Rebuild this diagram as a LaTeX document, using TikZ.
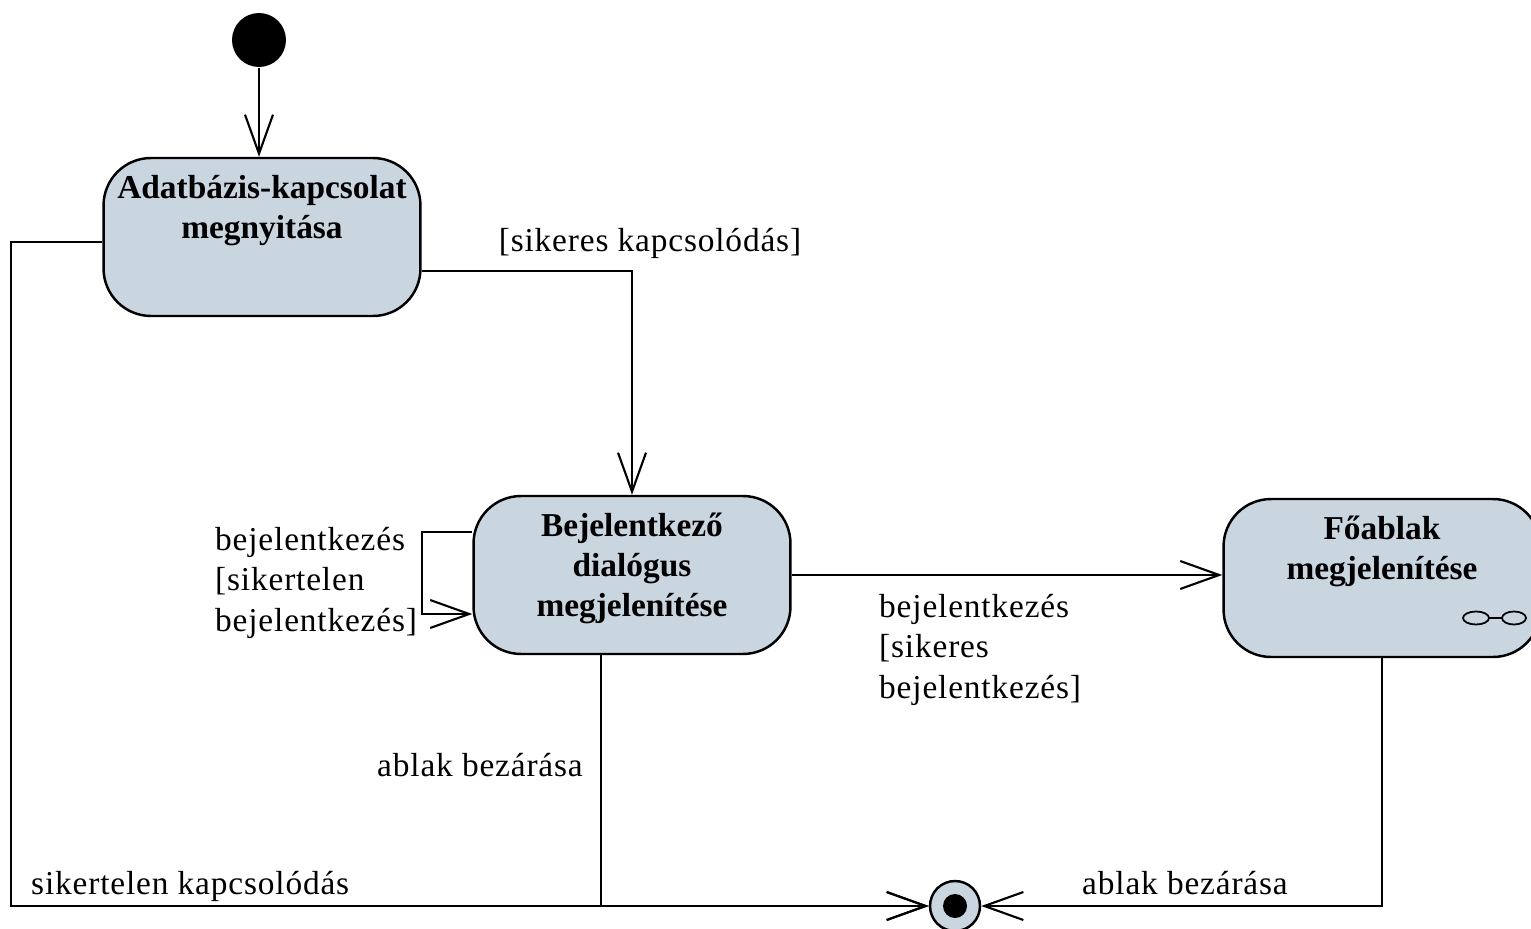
\documentclass[tikz,border=0pt]{standalone}
\usepackage{fontspec}
\setmainfont{Liberation Serif}
\newfontfamily\lblfont{Liberation Serif}[LetterSpace=2.5]
\usetikzlibrary{positioning, arrows.meta, calc}
\definecolor{StateFill}{HTML}{C9D6DF}
\newcommand{\statetext}[1]{\begin{tabular}[t]{@{}c@{}}#1\end{tabular}}

\begin{document}
\begin{tikzpicture}[x=0.02cm, y=-0.02cm, line width=1.4pt,
    every node/.style={font=\fontsize{19}{22.8}\selectfont\lblfont},
    >={Straight Barb[length=0.78cm, width=0.56cm]},
    state/.style={draw, fill=StateFill, rounded corners=0.95cm, minimum width=6.34cm, minimum height=3.16cm, inner sep=0pt, text height=0.8cm, text depth=2.36cm,
        font=\fontsize{19}{22.8}\selectfont\bfseries},
    trans/.style={->, line width=1.2pt},
    lbl/.style={inner sep=0pt, anchor=base}]
    \useasboundingbox (0,0) rectangle (1531,929);

    % Start and end
    \node[circle, fill=black, minimum size=1.08cm, inner sep=0pt] (init) at (259,40) {};
    \node[circle, draw, fill=StateFill, minimum size=1cm, inner sep=0pt, path picture={\fill[black] (path picture bounding box.center) circle (0.24cm);}] (final) at (955,906) {};

    % States
    \node[state] (dbopen) at (262,237) {\statetext{Adatbázis-kapcsolat\\megnyitása}};
    \node[state] (login) at (632,575) {\statetext{Bejelentkező\\dialógus\\megjelenítése}};
    \node[state] (mainwin) at (1382,578) {\statetext{Főablak\\megjelenítése}};

    % Composite icon
    \draw[line width=1pt] ($(mainwin.center)+(94,40)$) ellipse [x radius=0.26cm, y radius=0.13cm];
    \draw[line width=1pt] ($(mainwin.center)+(132,40)$) ellipse [x radius=0.24cm, y radius=0.13cm];
    \draw[line width=1pt] ($(mainwin.center)+(107,40)$) -- ++(13,0);

    % Transitions
    \draw[trans] (init) -- (init |- dbopen.north);
    \draw[trans] ($(dbopen.east)+(0,34)$) -| (login.north);
    \draw[trans] ($(dbopen.west)+(0,5)$) -- ++(-91,0) |- (final.west);
    \draw[trans] ($(login.south)+(-31,0)$) |- (final.west);
    \draw[trans] ($(login.west)+(0,-43)$) -- ++(-50,0) |- ($(login.west)+(0,39)$);
    \draw[trans] (login.east) -- (login.east -| mainwin.west);
    \draw[trans] (mainwin.south) |- (final.east);

    % Labels
    \node[lbl] (sikeres) at (650,252) {[sikeres kapcsolódás]};
    \node[lbl, anchor=base west] (sikertelen) at (30,894) {sikertelen kapcsolódás};
    \node[lbl] (bezar1) at (480,776) {ablak bezárása};
    \node[lbl, anchor=base west, align=left] (loopl) at (214,631) {bejelentkezés\\{[}sikertelen\\bejelentkezés]};
    \node[lbl, anchor=base west, align=left] (loginok) at (878,698) {bejelentkezés\\{[}sikeres\\bejelentkezés]};
    \node[lbl] (bezar2) at (1185,894) {ablak bezárása};
\end{tikzpicture}
\end{document}
